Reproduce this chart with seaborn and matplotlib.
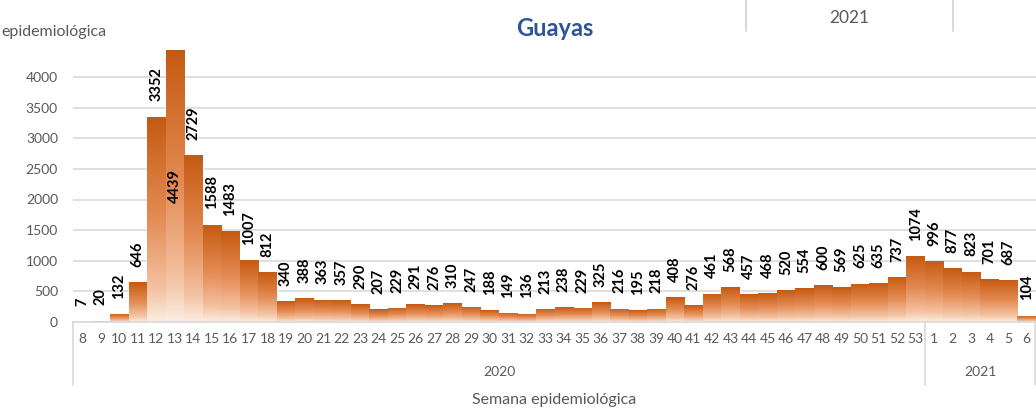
import numpy as np
import pandas as pd
import matplotlib
matplotlib.use('Agg')
import matplotlib.pyplot as plt
import seaborn as sns
from matplotlib.colors import LinearSegmentedColormap
from matplotlib.lines import Line2D
from matplotlib.transforms import blended_transform_factory

# ---- data ----
weeks_2020 = list(range(8, 54))
cases_2020 = [7, 20, 132, 646, 3352, 4439, 2729, 1588, 1483, 1007, 812, 340,
              388, 363, 357, 290, 207, 229, 291, 276, 310, 247, 188, 149, 136,
              213, 238, 229, 325, 216, 195, 218, 408, 276, 461, 568, 457, 468,
              520, 554, 600, 569, 625, 635, 737, 1074]
weeks_2021 = list(range(1, 7))
cases_2021 = [996, 877, 823, 701, 687, 104]
year_labels = ['2020', '2021']
y_ticks = [0, 500, 1000, 1500, 2000, 2500, 3000, 3500, 4000]

df = pd.DataFrame({
    'year': [year_labels[0]] * len(weeks_2020) + [year_labels[1]] * len(weeks_2021),
    'week': weeks_2020 + weeks_2021,
    'cases': cases_2020 + cases_2021,
})
df['key'] = df['year'] + '-' + df['week'].astype(str)

GRAY = '#595959'
LINE = '#D9D9D9'

sns.set_style('white')
plt.rcParams['font.family'] = ['Lato', 'DejaVu Sans']

W, H = 1036, 417
fig = plt.figure(figsize=(W / 100, H / 100), dpi=100)
ax = fig.add_axes([73 / W, 95 / H, 963 / W, 274.4 / H])

sns.barplot(data=df, x='key', y='cases', order=list(df['key']), color='#C55A11',
            width=1.0, saturation=1, ax=ax)

# gradient fill on every bar (dark on top, pale at the bottom)
cmap = LinearSegmentedColormap.from_list(
    'bar', [(0, '#FBEEE4'), (0.15, '#F4C4A4'), (0.5, '#E48C55'), (1, '#C55A11')])
grad = np.linspace(1, 0, 256).reshape(-1, 1)
for p in ax.patches:
    x0, w, h = p.get_x(), p.get_width(), p.get_height()
    im = ax.imshow(grad, cmap=cmap, vmin=0, vmax=1, aspect='auto', origin='upper',
                   extent=[x0, x0 + w, 0, h], zorder=2)
    im.set_clip_path(p)

ax.set_xlim(-0.5, len(df) - 0.5)
ax.set_ylim(0, 4480)

# value labels
vmax = df['cases'].max()
for i, v in enumerate(df['cases']):
    if v == vmax:
        ax.text(i, v / 2, str(v), rotation=90, ha='center', va='center',
                fontsize=10.5, fontweight='bold', color='black', zorder=4)
    else:
        ax.annotate(str(v), (i, v), xytext=(0, 11), textcoords='offset points',
                    rotation=90, ha='center', va='bottom', fontsize=10.5,
                    fontweight='bold', color='black', zorder=4)

# axes styling
ax.set_yticks(y_ticks)
ax.yaxis.grid(True, color=LINE, lw=1.2)
ax.xaxis.grid(False)
ax.set_axisbelow(True)
for s in ['left', 'top', 'right']:
    ax.spines[s].set_visible(False)
ax.spines['bottom'].set_color(LINE)
ax.spines['bottom'].set_linewidth(1.2)
ax.tick_params(axis='y', length=0, pad=10.8, labelsize=10, labelcolor=GRAY)
ax.set_xticks(range(len(df)))
ax.set_xticklabels(df['week'].astype(str))
ax.tick_params(axis='x', which='major', length=0, pad=8, labelsize=10, labelcolor=GRAY)
ax.set_xticks(np.arange(-0.5, len(df), 1), minor=True)
ax.tick_params(axis='x', which='minor', length=3, width=1, color=LINE)
ax.set_xlabel('')
ax.set_ylabel('')

# year group axis
trans = blended_transform_factory(ax.transData, ax.transAxes)
n20 = len(weeks_2020)
for xb in [-0.5, n20 - 0.5, len(df) - 0.55]:
    ax.plot([xb, xb], [0, -0.23], transform=trans, clip_on=False, color=LINE, lw=1.2)
ax.text((n20 - 1) / 2, -0.182, year_labels[0], transform=trans, ha='center',
        va='center', fontsize=10, color=GRAY)
ax.text(n20 + (len(weeks_2021) - 1) / 2, -0.182, year_labels[1], transform=trans,
        ha='center', va='center', fontsize=10, color=GRAY)

fig.text((73 + 963 / 2) / W, 1 - 400 / H, 'Semana epidemiológica', ha='center',
         va='center', fontsize=11.5, color=GRAY)
fig.text(0.001, 1 - 32 / H, 'epidemiológica', ha='left', va='center',
         fontsize=11.5, color=GRAY)
fig.text(555 / W, 1 - 28 / H, 'Guayas', ha='center', va='center', fontsize=17,
         fontweight='bold', color='#2F5597')

# filter-button header at the top right
fig.text(849 / W, 1 - 18 / H, '2021', ha='center', va='center', fontsize=12.5, color=GRAY)
for xl in [746, 953]:
    fig.add_artist(Line2D([xl / W, xl / W], [1, 1 - 31 / H], color=LINE, lw=1.5))

fig.savefig('out.png', dpi=100)
